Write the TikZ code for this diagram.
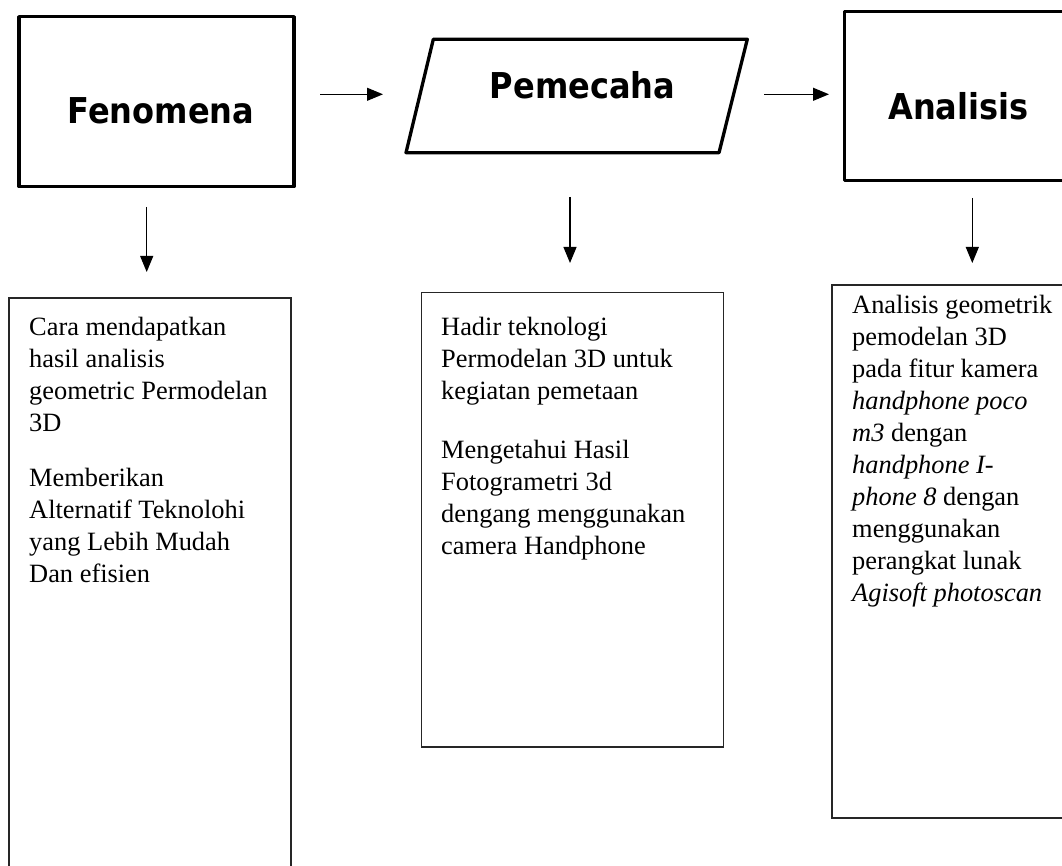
\documentclass[tikz,border=0pt]{standalone}
\usepackage{fontspec}
\setmainfont{Liberation Serif}
\newfontfamily\headfont{DejaVu Sans Condensed}[BoldFont={DejaVu Sans Condensed Bold}]
\usetikzlibrary{arrows.meta}
\begin{document}
\begin{tikzpicture}[x=1pt,y=-1pt,
  headbox/.style={draw=black,line width=3.3pt,line join=round},
  textbox/.style={draw=black!85,line width=1.2pt},
  headtext/.style={anchor=base,inner sep=0pt,font=\headfont\bfseries\fontsize{35.6}{40}\selectfont},
  bodytext/.style={anchor=north west,inner sep=0pt,align=left,font=\fontsize{26.4}{32}\selectfont},
  arr/.style={draw=black,line width=1.1pt,-{Triangle[length=16pt,width=13pt]}}]
\useasboundingbox (0,0) rectangle (1062,866);
\clip (0,0) rectangle (1062,866);
% header shapes
\draw[headbox] (19,16.7) rectangle (294,186.5);
\draw[headbox] (433.3,39.3) -- (747.3,39.3) -- (719,152.7) -- (406,152.7) -- cycle;
\draw[headbox] (1080,11.7) -- (844.7,11.7) -- (844.7,180.7) -- (1080,180.7);
\node[headtext] (fen) at (161,124) {Fenomena};
\node[headtext] (pem) at (582.5,99) {Pemecaha};
\node[headtext] (ana) at (958.5,120) {Analisis};
% text boxes
\draw[textbox] (9,298) rectangle (291,880);
\draw[textbox] (421.5,292.7) rectangle (723.3,747);
\draw[textbox] (1080,285) -- (832,285) -- (832,818) -- (1080,818);
\node[bodytext] (t1) at (29,312.6) {\strut Cara mendapatkan\\hasil analisis\\geometric Permodelan\\3D\\[23pt]Memberikan\\Alternatif Teknolohi\\yang Lebih Mudah\\Dan efisien};
\node[bodytext] (t2) at (441,312.6) {\strut Hadir teknologi\\Permodelan 3D untuk\\kegiatan pemetaan\\[27pt]Mengetahui Hasil\\Fotogrametri 3d\\dengang menggunakan\\camera Handphone};
\node[bodytext] (t3) at (852,290.6) {\strut Analisis geometrik\\pemodelan 3D\\pada fitur kamera\\\textit{handphone poco}\\\textit{m3} dengan\\\textit{handphone I-}\\\textit{phone 8} dengan\\menggunakan\\perangkat lunak\\\textit{Agisoft photoscan}};
% arrow endpoints
\coordinate (a1s) at (320,94.3);
\coordinate (a1e) at (383,94.3);
\coordinate (a2s) at (764,94.3);
\coordinate (a2e) at (829,94.3);
\coordinate (d1s) at (146.7,207);
\coordinate (d1e) at (146.7,272);
\coordinate (d2s) at (570,197);
\coordinate (d2e) at (570,263);
\coordinate (d3s) at (972.3,198);
\coordinate (d3e) at (972.3,263);
\draw[arr] (a1s) -- (a1e);
\draw[arr] (a2s) -- (a2e);
\draw[arr] (d1s) -- (d1e);
\draw[arr] (d2s) -- (d2e);
\draw[arr] (d3s) -- (d3e);
\end{tikzpicture}
\end{document}
